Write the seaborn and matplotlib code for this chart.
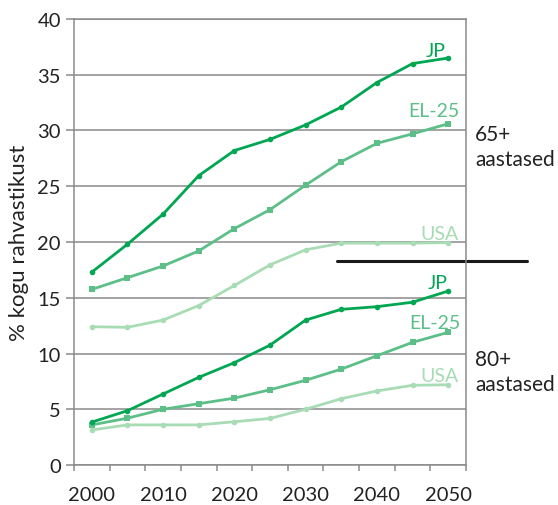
import matplotlib
matplotlib.use("Agg")
import matplotlib.pyplot as plt
import pandas as pd
import seaborn as sns

years = ["2000", "2005", "2010", "2015", "2020", "2025", "2030", "2035", "2040", "2045", "2050"]

jp_65 = [17.3, 19.8, 22.5, 25.95, 28.2, 29.2, 30.5, 32.1, 34.3, 36.0, 36.5]
eu_65 = [15.75, 16.8, 17.85, 19.2, 21.2, 22.9, 25.1, 27.2, 28.85, 29.7, 30.6]
us_65 = [12.4, 12.35, 13.0, 14.3, 16.1, 17.95, 19.3, 19.9, 19.9, 19.9, 19.95]

jp_80 = [3.85, 4.87, 6.37, 7.86, 9.18, 10.75, 13.0, 13.96, 14.2, 14.6, 15.6]
eu_80 = [3.6, 4.2, 5.0, 5.5, 6.0, 6.75, 7.6, 8.6, 9.8, 11.0, 11.9]
us_80 = [3.14, 3.6, 3.6, 3.6, 3.88, 4.18, 5.0, 5.95, 6.64, 7.15, 7.2]

series = {
    ("JP", "65+"): jp_65, ("EL-25", "65+"): eu_65, ("USA", "65+"): us_65,
    ("JP", "80+"): jp_80, ("EL-25", "80+"): eu_80, ("USA", "80+"): us_80,
}
colors = {"JP": "#00a651", "EL-25": "#5cbf88", "USA": "#a8dcb5"}
markers = {"JP": "o", "EL-25": "s", "USA": "o"}

rows = []
for (region, age), vals in series.items():
    for i, v in enumerate(vals):
        rows.append({"pos": i, "year": years[i], "region": region, "age": age, "value": v})
df = pd.DataFrame(rows)

sns.set_theme(style="white")
plt.rcParams["font.family"] = ["Lato", "DejaVu Sans"]

fig = plt.figure(figsize=(5.58, 5.06), dpi=100)
ax = fig.add_axes([0.1326, 0.079, 0.7025, 0.8815])

for (region, age), sub in df.groupby(["region", "age"]):
    sns.lineplot(data=sub, x="pos", y="value", ax=ax, color=colors[region],
                 marker=markers[region], markersize=4, markeredgewidth=0,
                 linewidth=2, legend=False)

ax.set_xlim(-0.5, 10.5)
ax.set_ylim(0, 40)
ax.set_yticks(range(0, 41, 5))
ax.yaxis.grid(True, color="#8a8a8a", linewidth=1.1)
ax.set_axisbelow(True)
for s in ax.spines.values():
    s.set_color("#8a8a8a")
    s.set_linewidth(1.1)

ax.set_xticks(range(0, 11, 2))
ax.set_xticklabels(years[::2])
ax.set_xticks([i - 0.5 for i in range(12)], minor=True)
ax.tick_params(axis="x", which="major", length=0, pad=15, labelsize=14.5, colors="#222222")
ax.tick_params(axis="x", which="minor", length=4, width=1.1, color="#8a8a8a", bottom=True)
ax.tick_params(axis="y", length=6, width=1.1, color="#8a8a8a", labelsize=14.5,
               left=True, labelcolor="#222222")
ax.set_xlabel("")
ax.set_ylabel("% kogu rahvastikust", fontsize=16, color="#222222", labelpad=6)

# series labels next to the line ends
label_pos = {("JP", "65+"): (9.66, 37.2), ("EL-25", "65+"): (9.6, 31.8),
             ("USA", "65+"): (9.75, 20.8), ("JP", "80+"): (9.7, 16.4),
             ("EL-25", "80+"): (9.63, 12.8), ("USA", "80+"): (9.75, 8.0)}
for (region, age), (x, y) in label_pos.items():
    ax.text(x, y, region, color=colors[region], fontsize=14, ha="center", va="center")

ax.text(10.75, 28.6, "65+\naastased", fontsize=15, color="#222222", ha="left",
        va="center", linespacing=1.3)
ax.text(10.75, 8.4, "80+\naastased", fontsize=15, color="#222222", ha="left",
        va="center", linespacing=1.3)

ax.plot([6.88, 12.2], [18.27, 18.27], color="#1a1a1a", linewidth=2.2, clip_on=False)

fig.savefig("out.png", dpi=100)
